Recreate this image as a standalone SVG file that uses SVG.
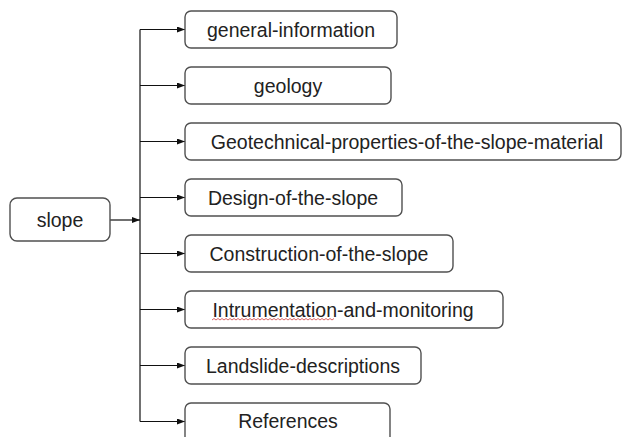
<svg xmlns="http://www.w3.org/2000/svg" width="623" height="437" viewBox="0 0 623 437">
<style>
.box{fill:#fff;stroke:#505050;stroke-width:1.4}
.lbl{font-family:"Liberation Sans",Arial,sans-serif;font-size:19.5px;fill:#222;text-anchor:middle}
.con{stroke:#111;stroke-width:1.2;fill:none}
</style>
<defs>
<marker id="arr" viewBox="0 0 8 6" refX="8" refY="3" markerWidth="8" markerHeight="6" markerUnits="userSpaceOnUse" orient="auto">
<path d="M0,0 L8,3 L0,6 Z" fill="#111"/>
</marker>
</defs>
<rect width="623" height="437" fill="#fff"/>
<g id="connectors">
<path class="con" d="M110,220 H140" marker-end="url(#arr)"/>
<path class="con" d="M140,29.5 V421.5"/>
<path class="con" d="M140,29.5 H185" marker-end="url(#arr)"/>
<path class="con" d="M140,85.5 H185" marker-end="url(#arr)"/>
<path class="con" d="M140,141.5 H185" marker-end="url(#arr)"/>
<path class="con" d="M140,197.5 H185" marker-end="url(#arr)"/>
<path class="con" d="M140,253.5 H185" marker-end="url(#arr)"/>
<path class="con" d="M140,309.5 H185" marker-end="url(#arr)"/>
<path class="con" d="M140,365.5 H185" marker-end="url(#arr)"/>
<path class="con" d="M140,421.5 H185" marker-end="url(#arr)"/>
</g>
<g id="slope">
<rect class="box" x="10" y="198" width="100" height="43" rx="7"/>
<text class="lbl" x="60" y="227">slope</text>
</g>
<g id="general-information">
<rect class="box" x="185" y="11" width="212" height="37" rx="6"/>
<text class="lbl" x="291" y="37">general-information</text>
</g>
<g id="geology">
<rect class="box" x="185" y="67" width="206" height="37" rx="6"/>
<text class="lbl" x="288" y="93">geology</text>
</g>
<g id="geotechnical">
<rect class="box" x="185" y="123" width="436" height="37" rx="6"/>
<text class="lbl" x="407" y="149">Geotechnical-properties-of-the-slope-material</text>
</g>
<g id="design">
<rect class="box" x="185" y="179" width="217" height="37" rx="6"/>
<text class="lbl" x="293" y="205">Design-of-the-slope</text>
</g>
<g id="construction">
<rect class="box" x="185" y="235" width="268" height="37" rx="6"/>
<text class="lbl" x="319" y="261">Construction-of-the-slope</text>
</g>
<g id="instrumentation">
<rect class="box" x="185" y="291" width="318" height="37" rx="6"/>
<text class="lbl" x="343" y="317">Intrumentation-and-monitoring</text>
<path d="M212,320 l2,-1.5 l2,1.5 l2,-1.5 l2,1.5 l2,-1.5 l2,1.5 l2,-1.5 l2,1.5 l2,-1.5 l2,1.5 l2,-1.5 l2,1.5 l2,-1.5 l2,1.5 l2,-1.5 l2,1.5 l2,-1.5 l2,1.5 l2,-1.5 l2,1.5 l2,-1.5 l2,1.5 l2,-1.5 l2,1.5 l2,-1.5 l2,1.5 l2,-1.5 l2,1.5 l2,-1.5 l2,1.5 l2,-1.5 l2,1.5 l2,-1.5 l2,1.5 l2,-1.5 l2,1.5 l2,-1.5 l2,1.5 l2,-1.5 l2,1.5 l2,-1.5 l2,1.5 l2,-1.5 l2,1.5 l2,-1.5 l2,1.5 l2,-1.5 l2,1.5 l2,-1.5 l2,1.5 l2,-1.5 l2,1.5 l2,-1.5 l2,1.5 l2,-1.5 l2,1.5 l2,-1.5 l2,1.5 l2,-1.5 l2,1.5 l2,-1.5" fill="none" stroke="#d04040" stroke-width="0.8"/>
</g>
<g id="landslide">
<rect class="box" x="185" y="347" width="236" height="37" rx="6"/>
<text class="lbl" x="303" y="373">Landslide-descriptions</text>
</g>
<g id="references">
<rect class="box" x="185" y="403" width="205" height="40" rx="6"/>
<text class="lbl" x="288" y="428">References</text>
</g>
</svg>
